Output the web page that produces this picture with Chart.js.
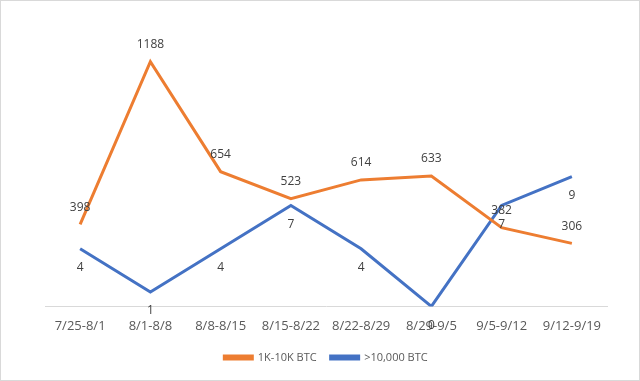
<!DOCTYPE html>
<html>
<head>
<meta charset="utf-8">
<script src="https://cdn.jsdelivr.net/npm/chart.js@4.4.1/dist/chart.umd.min.js"></script>
<style>
  html, body { margin: 0; padding: 0; background: #fff; }
  #wrap { position: relative; width: 638px; height: 379px; border: 1px solid #d9d9d9; }
</style>
</head>
<body>
<div id="wrap"><canvas id="chart"></canvas></div>
<script>
// weekly periods
const weeks = ["7/25-8/1", "8/1-8/8", "8/8-8/15", "8/15-8/22", "8/22-8/29", "8/29-9/5", "9/5-9/12", "9/12-9/19"];
// 1K-10K BTC wallets
const midWallets = [398, 1188, 654, 523, 614, 633, 382, 306];
// >10,000 BTC wallets
const bigWallets = [4, 1, 4, 7, 4, 0, 7, 9];

// draws the value next to each point (above for orange, below for blue)
const valueLabels = {
  id: "valueLabels",
  afterDatasetsDraw(chart) {
    const ctx = chart.ctx;
    ctx.save();
    ctx.font = "12px 'Open Sans', sans-serif";
    ctx.fillStyle = "#404040";
    ctx.textAlign = "center";
    ctx.textBaseline = "middle";
    chart.data.datasets.forEach((ds, i) => {
      const meta = chart.getDatasetMeta(i);
      meta.data.forEach((pt, j) => {
        ctx.fillText(String(ds.data[j]), pt.x, pt.y + ds.labelShift);
      });
    });
    ctx.restore();
  }
};

const config = {
  type: "line",
  data: {
    labels: weeks,
    datasets: [
      {
        label: "1K-10K BTC",
        data: midWallets,
        borderColor: "#ED7D31",
        backgroundColor: "#ED7D31",
        borderWidth: 3,
        pointRadius: 0,
        tension: 0,
        yAxisID: "y",
        labelShift: -17
      },
      {
        label: ">10,000 BTC",
        data: bigWallets,
        borderColor: "#4472C4",
        backgroundColor: "#4472C4",
        borderWidth: 3,
        pointRadius: 0,
        tension: 0,
        yAxisID: "y1",
        labelShift: 19
      }
    ]
  },
  options: {
    responsive: true,
    maintainAspectRatio: false,
    animation: false,
    layout: { padding: { left: 44, right: 32, top: 17, bottom: 7 } },
    plugins: {
      legend: {
        position: "bottom",
        labels: {
          boxWidth: 28,
          boxHeight: 3,
          color: "#595959",
          font: { family: "'Open Sans', sans-serif", size: 11 },
          padding: 14
        }
      },
      tooltip: { enabled: false }
    },
    scales: {
      x: {
        offset: true,
        grid: { display: false },
        border: { display: true, color: "#d9d9d9", width: 1 },
        ticks: {
          color: "#595959",
          font: { family: "'Open Sans', sans-serif", size: 13 },
          padding: 4,
          maxRotation: 0,
          autoSkip: false
        }
      },
      y: { display: false, min: 0, max: 1400 },
      y1: { display: false, min: 0, max: 20, position: "right" }
    }
  },
  plugins: [valueLabels]
};

const chart = new Chart(document.getElementById("chart"), config);
</script>
</body>
</html>
